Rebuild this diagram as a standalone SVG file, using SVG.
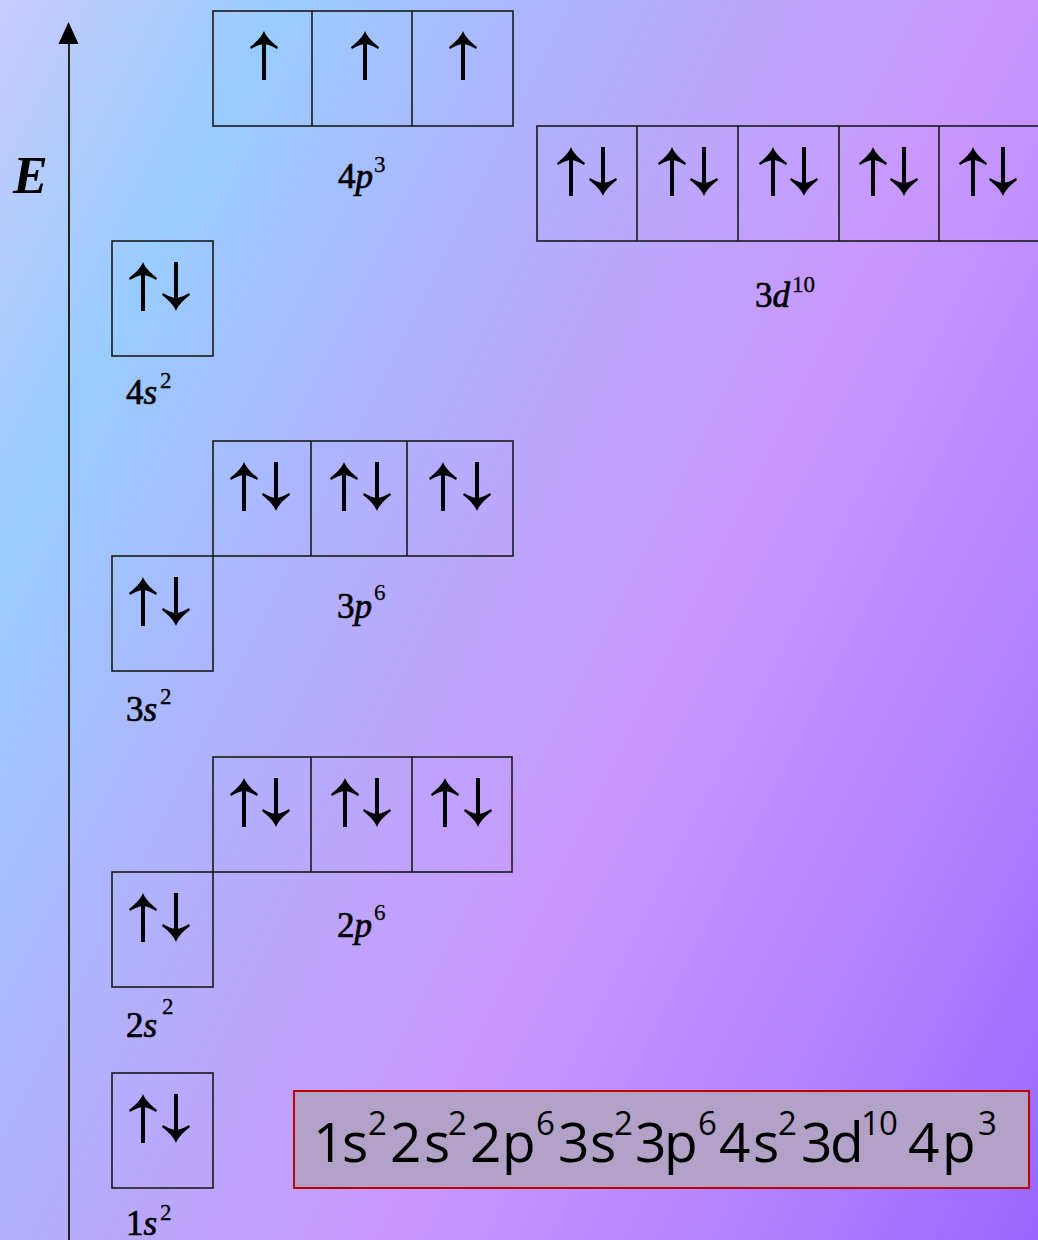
<svg xmlns="http://www.w3.org/2000/svg" width="1038" height="1240" viewBox="0 0 1038 1240">
<defs>
<linearGradient id="bg" gradientUnits="userSpaceOnUse" x1="0" y1="0" x2="1325" y2="663">
<stop offset="0" stop-color="#c9cbfd"/>
<stop offset="0.17" stop-color="#99ccff"/>
<stop offset="0.37" stop-color="#b2b0fd"/>
<stop offset="0.6" stop-color="#c998fe"/>
<stop offset="0.8" stop-color="#b585fe"/>
<stop offset="1" stop-color="#9966ff"/>
</linearGradient>
<g id="up"><path d="M-2,10 H2 V49 H-2Z"/><path d="M0,0 C2,5 7,11 14,16 L13,18 C8,15 4,13.5 0,13 C-4,13.5 -8,15 -13,18 L-14,16 C-7,11 -2,5 0,0Z"/></g>
<g id="dn" transform="rotate(180)"><path d="M-2,10 H2 V49 H-2Z"/><path d="M0,0 C2,5 7,11 14,16 L13,18 C8,15 4,13.5 0,13 C-4,13.5 -8,15 -13,18 L-14,16 C-7,11 -2,5 0,0Z"/></g>
</defs>
<style>
.box{fill:none;stroke:#1a1a1a;stroke-width:1.6}
.div{stroke:#1a1a1a;stroke-width:1.6}
.lbl{font-family:"Liberation Serif","Times New Roman",serif;font-size:35px;fill:#000;stroke:#000;stroke-width:0.7}
.sup{font-family:"Liberation Serif","Times New Roman",serif;font-size:23px;fill:#000;stroke:#000;stroke-width:0.3}
.it{font-style:italic}
.f{font-family:"Open Sans","Noto Sans","Liberation Sans",sans-serif;font-size:55px;fill:#000}
.fs{font-family:"Open Sans","Noto Sans","Liberation Sans",sans-serif;font-size:33px;fill:#000}
</style>
<rect x="0" y="0" width="1038" height="1240" fill="url(#bg)"/>

<g id="connectors">
<line x1="69" y1="38" x2="69" y2="1240" stroke="#222" stroke-width="2"/>
<path d="M68.5,22 L78.5,44 L58.5,44 Z" fill="#000"/>
<text x="13" y="193" font-family="Liberation Serif, serif" font-size="52" font-style="italic" font-weight="bold">E</text>
</g>

<g id="orb4p">
<rect class="box" x="213" y="11" width="300" height="115"/>
<line class="div" x1="312" y1="11" x2="312" y2="126"/>
<line class="div" x1="412" y1="11" x2="412" y2="126"/>
<use href="#up" x="264" y="31"/>
<use href="#up" x="365" y="31"/>
<use href="#up" x="463" y="31"/>
<text class="lbl" x="338" y="188">4<tspan class="it">p</tspan></text>
<text class="sup" x="374" y="172">3</text>
</g>

<g id="orb3d">
<rect class="box" x="537" y="126" width="510" height="115"/>
<line class="div" x1="637" y1="126" x2="637" y2="241"/>
<line class="div" x1="738" y1="126" x2="738" y2="241"/>
<line class="div" x1="839" y1="126" x2="839" y2="241"/>
<line class="div" x1="939" y1="126" x2="939" y2="241"/>
<use href="#up" x="571" y="147"/><use href="#dn" x="603" y="196"/>
<use href="#up" x="672" y="147"/><use href="#dn" x="704" y="196"/>
<use href="#up" x="773" y="147"/><use href="#dn" x="804" y="196"/>
<use href="#up" x="873" y="147"/><use href="#dn" x="904" y="196"/>
<use href="#up" x="973" y="147"/><use href="#dn" x="1003" y="196"/>
<text class="lbl" x="755" y="307">3<tspan class="it">d</tspan></text>
<text class="sup" x="792" y="292">10</text>
</g>

<g id="orb4s">
<rect class="box" x="112" y="241" width="101" height="115"/>
<use href="#up" x="143" y="262"/><use href="#dn" x="176" y="311"/>
<text class="lbl" x="126" y="404">4<tspan class="it">s</tspan></text>
<text class="sup" x="160" y="388">2</text>
</g>

<g id="orb3p">
<rect class="box" x="213" y="441" width="300" height="115"/>
<line class="div" x1="311" y1="441" x2="311" y2="556"/>
<line class="div" x1="407" y1="441" x2="407" y2="556"/>
<use href="#up" x="244" y="462"/><use href="#dn" x="276" y="511"/>
<use href="#up" x="344" y="462"/><use href="#dn" x="377" y="511"/>
<use href="#up" x="443" y="462"/><use href="#dn" x="477" y="511"/>
<text class="lbl" x="337" y="618">3<tspan class="it">p</tspan></text>
<text class="sup" x="374" y="600">6</text>
</g>

<g id="orb3s">
<rect class="box" x="112" y="556" width="101" height="115"/>
<use href="#up" x="143" y="577"/><use href="#dn" x="176" y="626"/>
<text class="lbl" x="126" y="721">3<tspan class="it">s</tspan></text>
<text class="sup" x="160" y="704">2</text>
</g>

<g id="orb2p">
<rect class="box" x="213" y="757" width="299" height="115"/>
<line class="div" x1="311" y1="757" x2="311" y2="872"/>
<line class="div" x1="412" y1="757" x2="412" y2="872"/>
<use href="#up" x="244" y="778"/><use href="#dn" x="276" y="827"/>
<use href="#up" x="345" y="778"/><use href="#dn" x="377" y="827"/>
<use href="#up" x="445" y="778"/><use href="#dn" x="478" y="827"/>
<text class="lbl" x="337" y="937">2<tspan class="it">p</tspan></text>
<text class="sup" x="374" y="920">6</text>
</g>

<g id="orb2s">
<rect class="box" x="112" y="872" width="101" height="115"/>
<use href="#up" x="143" y="893"/><use href="#dn" x="176" y="942"/>
<text class="lbl" x="126" y="1037">2<tspan class="it">s</tspan></text>
<text class="sup" x="162" y="1014">2</text>
</g>

<g id="orb1s">
<rect class="box" x="112" y="1073" width="101" height="115"/>
<use href="#up" x="143" y="1094"/><use href="#dn" x="176" y="1143"/>
<text class="lbl" x="126" y="1235">1<tspan class="it">s</tspan></text>
<text class="sup" x="160" y="1220">2</text>
</g>

<g id="formula">
<rect x="294" y="1091" width="735" height="97" fill="#b2a2c8" stroke="#c00000" stroke-width="2"/>
<text class="f" x="313 342 390 424 470 502 558 590 635 664 719 753 801 830 908 942" y="1162">1s2s2p3s3p4s3d4p</text>
<text class="fs" x="368 448 536 614 698 778 861 879 978" y="1135">226262103</text>
</g>
</svg>
